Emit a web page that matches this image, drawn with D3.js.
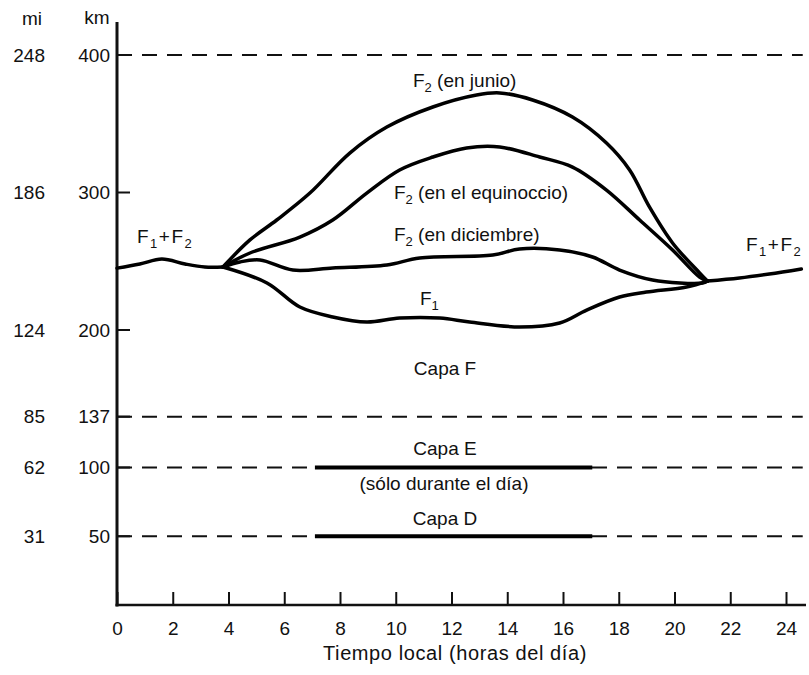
<!DOCTYPE html>
<html>
<head>
<meta charset="utf-8">
<script src="https://cdn.jsdelivr.net/npm/d3@7"></script>
<style>
  body { margin: 0; background: #fff; }
  svg text { font-family: "Liberation Sans", Arial, sans-serif; fill: #111; }
  .curve { fill: none; stroke: #000; stroke-width: 3.5; stroke-linecap: round; stroke-linejoin: round; }
</style>
</head>
<body>
<svg id="chart" width="809" height="675"></svg>
<script>
// ---- data (hours of local time, height in km) ----
const hourTicks = [0, 2, 4, 6, 8, 10, 12, 14, 16, 18, 20, 22, 24];
const kmTicks = [400, 300, 200, 137, 100, 50];
const miTicks = [248, 186, 124, 85, 62, 31];
const dashedKm = [400, 137, 100, 50];

const nightLeft = [[0, 245], [0.82, 248], [1.61, 251.6], [2.44, 248], [3.15, 245.8], [3.8, 245.8]];
const nightRight = [[21.18, 235.6], [22.33, 237.8], [23.4, 240.7], [24.55, 244.4]];

const f2June = [[3.8, 245.8], [4.77, 265.5], [5.73, 280], [6.92, 299.6], [8.35, 328.7], [9.68, 347.6],
  [11.33, 362.2], [12.9, 370.9], [13.73, 372.4], [14.91, 367.3], [16.34, 354.9], [17.56, 336],
  [18.39, 316.4], [19.1, 289.5], [19.93, 263.3], [20.9, 241.5], [21.18, 235.6]];

const f2Equinox = [[3.8, 245.8], [4.77, 256], [6.56, 267.6], [7.74, 280], [8.96, 299.6], [10.14, 316.4],
  [11.33, 325.8], [12.54, 332.4], [13.73, 333.1], [15.16, 325.8], [16.34, 318.5], [17.56, 301.8],
  [18.75, 280], [19.93, 258.2], [20.9, 238.5], [21.18, 235.6]];

const f2December = [[3.8, 245.8], [4.41, 249.5], [5.13, 250.9], [6.31, 243.6], [7.74, 245.1], [9.68, 247.3],
  [10.86, 252.4], [13.48, 254.5], [14.44, 258.9], [15.88, 258.2], [17.06, 253.1], [18.03, 243.6],
  [19.21, 236.4], [21.0, 234.2], [21.18, 235.6]];

const f1 = [[3.8, 245.8], [5.38, 234.2], [6.56, 216.7], [7.74, 209.5], [8.96, 205.8], [10.14, 208.7],
  [11.58, 208.7], [12.65, 205.8], [14.44, 202.2], [15.88, 205.1], [16.85, 214.5], [18.03, 224],
  [18.99, 227.6], [20.43, 231.3], [21.18, 235.6]];

// day-only layers: [height km, start hour, end hour]
const dayLayers = [[100, 7.1, 17.05], [50, 7.1, 17.05]];

// ---- drawing ----
const svg = d3.select('#chart');
const x = d3.scaleLinear().domain([0, 24]).range([117, 786]);
const y = d3.scaleLinear().domain([0, 400]).range([605, 55]);
const xEnd = 24.6;

// dashed reference lines
svg.selectAll('line.dash')
  .data(dashedKm)
  .enter().append('line')
  .attr('class', 'dash')
  .attr('x1', x(0)).attr('x2', x(xEnd))
  .attr('y1', d => y(d)).attr('y2', d => y(d))
  .attr('stroke', '#111').attr('stroke-width', 2)
  .attr('stroke-dasharray', '15,10');

// short ticks on the km axis
svg.selectAll('line.ytick')
  .data(kmTicks)
  .enter().append('line')
  .attr('x1', x(0)).attr('x2', x(0) + 13)
  .attr('y1', d => y(d)).attr('y2', d => y(d))
  .attr('stroke', '#111').attr('stroke-width', 2);

// y axis line
svg.append('line')
  .attr('x1', x(0)).attr('x2', x(0))
  .attr('y1', 22).attr('y2', y(0) + 1.5)
  .attr('stroke', '#111').attr('stroke-width', 3);

// y labels: km and mi
svg.selectAll('text.km')
  .data(kmTicks)
  .enter().append('text')
  .attr('x', 110).attr('y', d => y(d))
  .attr('dy', '0.35em')
  .attr('text-anchor', 'end')
  .attr('font-size', 19)
  .text(d => d);

svg.selectAll('text.mi')
  .data(miTicks)
  .enter().append('text')
  .attr('x', 45).attr('y', (d, i) => y(kmTicks[i]))
  .attr('dy', '0.35em')
  .attr('text-anchor', 'end')
  .attr('font-size', 19)
  .text(d => d);

svg.append('text').attr('x', 32).attr('y', 25).attr('text-anchor', 'middle').attr('font-size', 19).text('mi');
svg.append('text').attr('x', 97).attr('y', 24).attr('text-anchor', 'middle').attr('font-size', 19).text('km');

// x axis
const xAxis = d3.axisBottom(x).tickValues(hourTicks).tickSizeInner(-13).tickSizeOuter(0).tickPadding(17);
const gx = svg.append('g').attr('transform', `translate(0,${y(0)})`).call(xAxis);
gx.select('.domain').remove();
gx.selectAll('.tick line').attr('stroke', '#111').attr('stroke-width', 2);
gx.selectAll('.tick text').attr('font-size', 19).attr('fill', '#111')
  .style('font-family', '"Liberation Sans", Arial, sans-serif');
svg.append('line')
  .attr('x1', x(0) - 1.5).attr('x2', 806)
  .attr('y1', y(0)).attr('y2', y(0))
  .attr('stroke', '#111').attr('stroke-width', 2.5);

svg.append('text')
  .attr('x', 455).attr('y', 660)
  .attr('text-anchor', 'middle')
  .attr('font-size', 20)
  .attr('letter-spacing', 0.6)
  .text('Tiempo local (horas del día)');

// curves
const line = d3.line()
  .x(d => x(d[0]))
  .y(d => y(d[1]))
  .curve(d3.curveCatmullRom.alpha(0.5));

[nightLeft, nightRight, f2June, f2Equinox, f2December, f1].forEach(s => {
  svg.append('path').attr('class', 'curve').attr('d', line(s));
});

// day-only E and D layers
svg.selectAll('line.day')
  .data(dayLayers)
  .enter().append('line')
  .attr('x1', d => x(d[1])).attr('x2', d => x(d[2]))
  .attr('y1', d => y(d[0])).attr('y2', d => y(d[0]))
  .attr('stroke', '#000').attr('stroke-width', 4);

// labels with subscripts; subscripts are given as one-element arrays
function label(px, py, parts, size) {
  const t = svg.append('text')
    .attr('x', px).attr('y', py)
    .attr('font-size', size || 19);
  let shift = 0;
  parts.forEach(p => {
    if (Array.isArray(p)) {
      t.append('tspan').attr('font-size', 13).attr('dy', 5 - shift).text(p[0]);
      shift = 5;
    } else {
      t.append('tspan').attr('dy', -shift).text(p);
      shift = 0;
    }
  });
  return t;
}

label(413, 87, ['F', ['2'], ' (en junio)']);
label(394, 199, ['F', ['2'], ' (en el equinoccio)']);
label(394, 241, ['F', ['2'], ' (en diciembre)']);
label(420, 305, ['F', ['1']]);
label(137, 243, ['F', ['1'], '+F', ['2']], 19).attr('word-spacing', 0).attr('letter-spacing', 1.5);
label(746, 251, ['F', ['1'], '+F', ['2']], 19).attr('letter-spacing', 1.5);

svg.append('text').attr('x', 445).attr('y', 375).attr('text-anchor', 'middle').attr('font-size', 19).text('Capa F');
svg.append('text').attr('x', 445).attr('y', 455).attr('text-anchor', 'middle').attr('font-size', 19).text('Capa E');
svg.append('text').attr('x', 444).attr('y', 490).attr('text-anchor', 'middle').attr('font-size', 19).text('(sólo durante el día)');
svg.append('text').attr('x', 445).attr('y', 525).attr('text-anchor', 'middle').attr('font-size', 19).text('Capa D');
</script>
</body>
</html>
